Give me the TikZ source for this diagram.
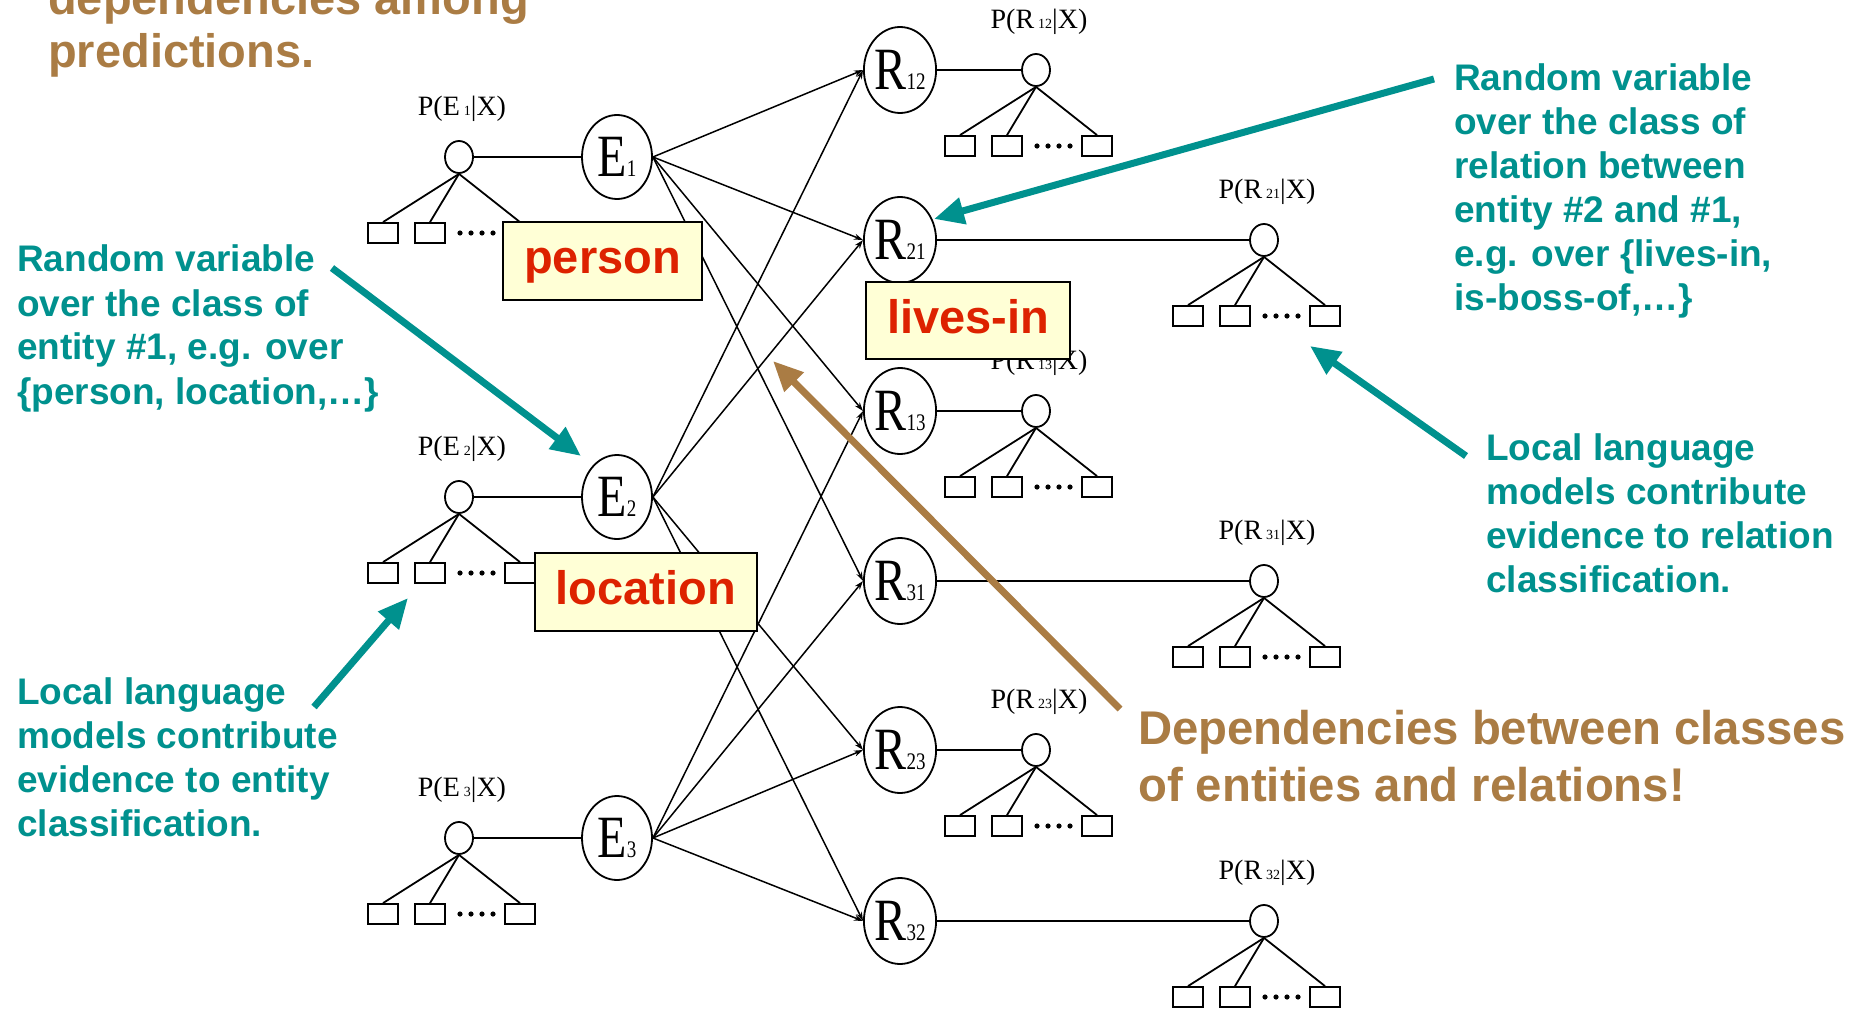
\documentclass[tikz,border=0pt]{standalone}
\usepackage{fontspec}
\setmainfont{Liberation Serif}
\newfontfamily\slidefont{Liberation Sans}
\usetikzlibrary{arrows.meta,shapes.geometric}

\definecolor{slideteal}{RGB}{0,145,142}
\definecolor{slidebrown}{RGB}{170,124,68}
\definecolor{tagred}{RGB}{221,34,0}
\definecolor{tagfill}{RGB}{255,255,214}

\tikzset{
  bignode/.style={ellipse, draw, line width=1.8pt, minimum width=72pt,
    minimum height=86pt, inner sep=0pt},
  smallnode/.style={ellipse, draw, line width=1.8pt, minimum width=28pt,
    minimum height=32pt, inner sep=0pt},
  leafbox/.style={rectangle, draw, line width=1.8pt, minimum width=30pt,
    minimum height=20pt, inner sep=0pt},
  plabel/.style={font=\fontsize{28}{28}\selectfont, inner sep=0pt},
  link/.style={line width=1.8pt},
  dep/.style={line width=1.5pt, -{Stealth[length=9pt,width=6pt]}},
  tag/.style={draw, line width=2.5pt, fill=tagfill, text=tagred,
    font=\slidefont\bfseries\fontsize{47}{47}\selectfont, inner sep=0pt,
    text height=25pt, text depth=0pt},
  note/.style={text=slideteal, font=\slidefont\bfseries\fontsize{37}{44}\selectfont,
    inner sep=0pt, anchor=base west},
  headline/.style={text=slidebrown, font=\slidefont\bfseries\fontsize{47}{53}\selectfont,
    inner sep=0pt, anchor=base west},
  claim/.style={text=slidebrown, font=\slidefont\bfseries\fontsize{47.3}{57}\selectfont,
    inner sep=0pt, anchor=base west},
  pointer/.style={draw=slideteal, line width=7pt, -{Triangle[length=30pt,width=26pt]}},
  brownpointer/.style={draw=slidebrown, line width=7pt, -{Triangle[length=30pt,width=26pt]}},
}

% letter with a small subscript, stretched vertically
\newcommand\varname[2]{\scalebox{1}[1.25]{\fontsize{48}{48}\selectfont #1\fontsize{19}{19}\selectfont #2}}

% local model: probability node, its label and three leaf boxes with dots
% #1 name, #2 x, #3 y, #4 variable letter, #5 subscript
\newcommand\localmodel[5]{%
  \node[smallnode] (#1) at (#2,#3) {};
  \node[plabel] (#1lab) at (#2+3,#3-48)
    {P(#4\hspace{4pt}{\fontsize{14}{14}\selectfont #5}|X)};
  \node[leafbox] (#1b1) at (#2-76,#3+76) {};
  \node[leafbox] (#1b2) at (#2-29,#3+76) {};
  \node[leafbox] (#1b3) at (#2+61,#3+76) {};
  \foreach \d in {1,12,23,34} {\fill (#2+\d,#3+76) circle (2.6pt);}
  \draw[link] (#1.south) -- (#1b1.north);
  \draw[link] (#1.south) -- (#1b2.north);
  \draw[link] (#1.south) -- (#1b3.north);
}

\begin{document}
\begin{tikzpicture}[x=1pt,y=-1pt]
\useasboundingbox (0,0) rectangle (1858,1011);

% entity variables
\node[bignode, minimum width=70pt, minimum height=84pt] (E1) at (617,157) {\varname{E}{1}};
\node[bignode, minimum width=70pt, minimum height=84pt] (E2) at (617,497) {\varname{E}{2}};
\node[bignode, minimum width=70pt, minimum height=84pt] (E3) at (617,838) {\varname{E}{3}};

% relation variables
\node[bignode] (R12) at (900,70)  {\varname{R}{12}};
\node[bignode] (R21) at (900,240) {\varname{R}{21}};
\node[bignode] (R13) at (900,411) {\varname{R}{13}};
\node[bignode] (R31) at (900,581) {\varname{R}{31}};
\node[bignode] (R23) at (900,750) {\varname{R}{23}};
\node[bignode] (R32) at (900,921) {\varname{R}{32}};

% local models for entities
\localmodel{PE1}{459}{157}{E}{1}
\localmodel{PE2}{459}{497}{E}{2}
\localmodel{PE3}{459}{838}{E}{3}
\draw[link] (PE1.east) -- (E1.west);
\draw[link] (PE2.east) -- (E2.west);
\draw[link] (PE3.east) -- (E3.west);

% local models for relations
\localmodel{PR12}{1036}{70}{R}{12}
\localmodel{PR21}{1264}{240}{R}{21}
\localmodel{PR13}{1036}{411}{R}{13}
\localmodel{PR31}{1264}{581}{R}{31}
\localmodel{PR23}{1036}{750}{R}{23}
\localmodel{PR32}{1264}{921}{R}{32}
\foreach \r in {12,21,13,31,23,32} {\draw[link] (R\r.east) -- (PR\r.west);}

% dependencies between entity and relation variables
\foreach \r in {12,21,13,31} {\draw[dep] (E1.east) -- (R\r.west);}
\foreach \r in {12,21,23,32} {\draw[dep] (E2.east) -- (R\r.west);}
\foreach \r in {13,31,23,32} {\draw[dep] (E3.east) -- (R\r.west);}

% class values
\node[tag, minimum width=199pt, minimum height=78pt] (person) at (602.5,261) {person};
\node[tag, minimum width=204pt, minimum height=77pt] (livesin) at (968,320.5) {lives-in};
\node[tag, minimum width=222pt, minimum height=78pt] (location) at (646,592) {location};

% explanations
\node[headline] (head) at (48,15) {\begin{tabular}[t]{@{}l@{}}dependencies among\\predictions.\end{tabular}};

\node[note] (entnote) at (17,272) {\begin{tabular}[t]{@{}l@{}}Random variable\\over the class of\\entity \#1, e.g. over\\\{person, location,…\}\end{tabular}};
\node[note] (relnote) at (1454,91) {\begin{tabular}[t]{@{}l@{}}Random variable\\over the class of\\relation between\\entity \#2 and \#1,\\e.g. over \{lives-in,\\is-boss-of,…\}\end{tabular}};
\node[note] (rellocal) at (1486,460) {\begin{tabular}[t]{@{}l@{}}Local language\\models contribute\\evidence to relation\\classification.\end{tabular}};
\node[note] (entlocal) at (17,704) {\begin{tabular}[t]{@{}l@{}}Local language\\models contribute\\evidence to entity\\classification.\end{tabular}};
\node[claim] (depnote) at (1138,744) {\begin{tabular}[t]{@{}l@{}}Dependencies between classes\\of entities and relations!\end{tabular}};

% pointers
\coordinate (entfrom) at (332,268);
\coordinate (entto) at (581,456);
\coordinate (relfrom) at (1434,79);
\coordinate (relto) at (934,219);
\coordinate (rlfrom) at (1466,456);
\coordinate (rlto) at (1310,346);
\coordinate (elfrom) at (314,707);
\coordinate (elto) at (408,598);
\coordinate (depfrom) at (1120,709);
\coordinate (depto) at (773,361);
\draw[pointer] (entfrom) -- (entto);
\draw[pointer] (relfrom) -- (relto);
\draw[pointer] (rlfrom) -- (rlto);
\draw[pointer] (elfrom) -- (elto);
\draw[brownpointer] (depfrom) -- (depto);
\end{tikzpicture}
\end{document}
